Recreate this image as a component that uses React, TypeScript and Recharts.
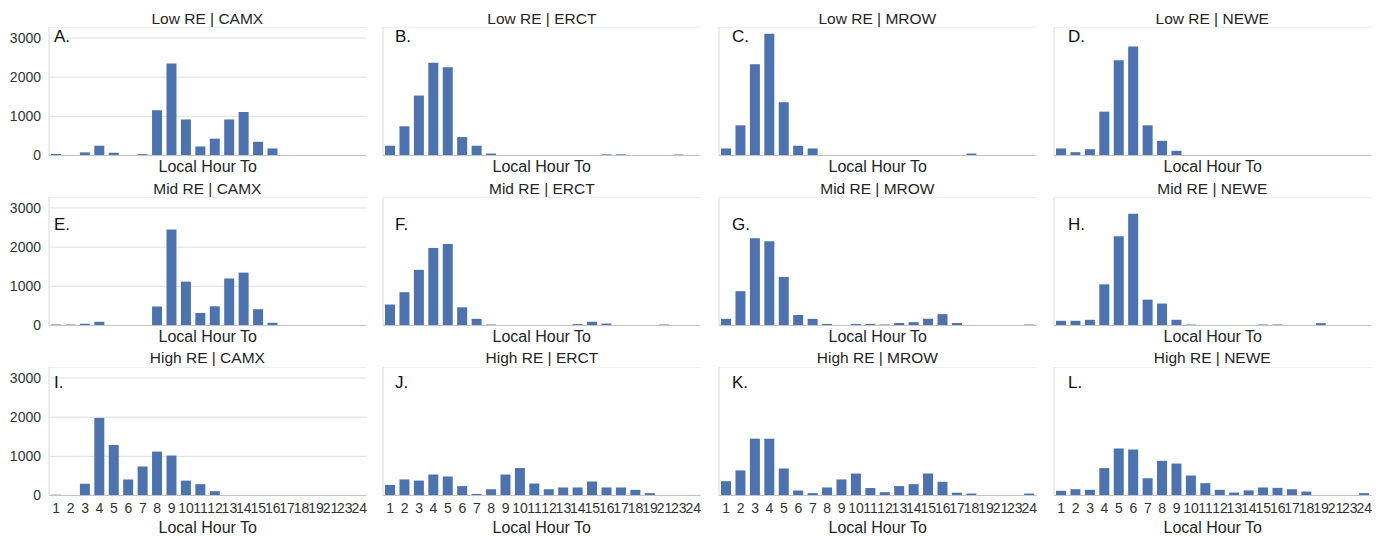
import { BarChart, Bar, XAxis, YAxis, CartesianGrid } from 'recharts';

// hours 20 and 22 never occur, so the category axis skips them
const hours = ['1', '2', '3', '4', '5', '6', '7', '8', '9', '10', '11', '12', '13', '14', '15', '16', '17', '18', '19', '21', '23', '24'];

const lowCamx = [40, 0, 80, 250, 70, 0, 35, 1155, 2350, 920, 230, 430, 920, 1110, 350, 180, 0, 0, 0, 0, 0, 0];
const lowErct = [250, 745, 1530, 2370, 2250, 470, 250, 50, 0, 0, 0, 0, 0, 0, 0, 30, 30, 0, 0, 0, 25, 0];
const lowMrow = [180, 770, 2330, 3110, 1360, 250, 180, 0, 0, 0, 0, 0, 0, 0, 0, 0, 0, 50, 0, 0, 0, 0];
const lowNewe = [180, 85, 160, 1120, 2430, 2780, 770, 375, 120, 0, 0, 0, 0, 0, 0, 0, 0, 0, 0, 0, 0, 0];

const midCamx = [25, 25, 45, 95, 0, 0, 0, 485, 2450, 1120, 320, 490, 1200, 1350, 415, 70, 0, 0, 0, 0, 0, 0];
const midErct = [535, 850, 1420, 1980, 2080, 465, 170, 25, 0, 0, 0, 0, 0, 35, 95, 50, 0, 0, 0, 25, 0, 0];
const midMrow = [170, 875, 2225, 2150, 1240, 265, 170, 40, 0, 40, 40, 25, 65, 85, 170, 290, 65, 0, 0, 0, 0, 25];
const midNewe = [120, 120, 145, 1050, 2280, 2850, 660, 560, 145, 25, 0, 0, 0, 0, 25, 25, 0, 0, 60, 0, 0, 0];

const highCamx = [20, 0, 300, 1980, 1290, 410, 740, 1120, 1020, 380, 290, 110, 0, 0, 0, 0, 0, 0, 0, 0, 0, 0];
const highErct = [270, 410, 380, 535, 485, 240, 40, 160, 535, 700, 305, 160, 205, 205, 355, 205, 205, 145, 60, 0, 0, 15];
const highMrow = [365, 640, 1450, 1450, 690, 130, 60, 205, 410, 560, 190, 85, 240, 290, 560, 350, 70, 50, 0, 0, 0, 50];
const highNewe = [120, 160, 145, 700, 1200, 1175, 440, 885, 815, 510, 315, 145, 75, 130, 205, 195, 160, 100, 0, 0, 0, 60];

const yTicks = [0, 1000, 2000, 3000];

const panels = [
  { title: 'Low RE | CAMX', letter: 'A.', values: lowCamx },
  { title: 'Low RE | ERCT', letter: 'B.', values: lowErct },
  { title: 'Low RE | MROW', letter: 'C.', values: lowMrow },
  { title: 'Low RE | NEWE', letter: 'D.', values: lowNewe },
  { title: 'Mid RE | CAMX', letter: 'E.', values: midCamx },
  { title: 'Mid RE | ERCT', letter: 'F.', values: midErct },
  { title: 'Mid RE | MROW', letter: 'G.', values: midMrow },
  { title: 'Mid RE | NEWE', letter: 'H.', values: midNewe },
  { title: 'High RE | CAMX', letter: 'I.', values: highCamx },
  { title: 'High RE | ERCT', letter: 'J.', values: highErct },
  { title: 'High RE | MROW', letter: 'K.', values: highMrow },
  { title: 'High RE | NEWE', letter: 'L.', values: highNewe },
];

const FONT = '"Liberation Sans", Arial, sans-serif';
const BAR = '#4C72B0';

const colLeft = [48.6, 383.1, 718.6, 1053.5];
const rowTop = [26.7, 196.5, 366.8];
const titleTop = [11, 181, 349.5];
const letterLeft = [54, 395, 732, 1068];
const letterTop = [27.5, 216, 373.5];
const plotW = 317.5;
const plotH = 128.5;
const yW = 50;
const xH = 42;

function Panel({ idx }: { idx: number }) {
  const p = panels[idx];
  const row = Math.floor(idx / 4);
  const col = idx % 4;
  const data = hours.map((h, i) => ({ hour: h, count: p.values[i] }));
  const last = row === 2;

  return (
    <>
      <div
        style={{
          position: 'absolute',
          left: colLeft[col],
          top: titleTop[row],
          width: plotW,
          textAlign: 'center',
          fontSize: 15.5,
          lineHeight: '15.5px',
          color: '#262626',
          whiteSpace: 'nowrap',
        }}
      >
        {p.title}
      </div>
      <div style={{ position: 'absolute', left: colLeft[col] - yW, top: rowTop[row] }}>
        <BarChart
          width={yW + plotW + 2}
          height={plotH + xH}
          data={data}
          margin={{ top: 0, right: 2, bottom: 0, left: 0 }}
          barCategoryGap="14%"
        >
          <CartesianGrid vertical={false} stroke="#dfdfdf" />
          <XAxis
            dataKey="hour"
            interval={0}
            height={xH}
            tickLine={false}
            axisLine={{ stroke: '#c4c4c4' }}
            tick={last ? { fontSize: 14, fill: '#333', fontFamily: FONT } : false}
            label={{
              value: 'Local Hour To',
              position: 'insideTop',
              offset: last ? 26 : 5,
              fill: '#262626',
              fontSize: 16,
              fontFamily: FONT,
            }}
          />
          <YAxis
            type="number"
            domain={[0, 3280]}
            ticks={yTicks}
            width={yW}
            tickLine={false}
            axisLine={{ stroke: '#dadada' }}
            tick={col === 0 ? { fontSize: 14, fill: '#333', fontFamily: FONT } : false}
          />
          <Bar dataKey="count" fill={BAR} isAnimationActive={false} />
        </BarChart>
      </div>
      <div
        style={{
          position: 'absolute',
          left: letterLeft[col],
          top: letterTop[row],
          fontSize: 17,
          lineHeight: '17px',
          color: '#111',
        }}
      >
        {p.letter}
      </div>
    </>
  );
}

export default function App() {
  return (
    <div
      style={{
        position: 'absolute',
        left: 0,
        top: 0,
        width: 1384,
        height: 536,
        background: '#fff',
        fontFamily: FONT,
        overflow: 'hidden',
      }}
    >
      {panels.map((_, i) => (
        <Panel key={i} idx={i} />
      ))}
    </div>
  );
}
